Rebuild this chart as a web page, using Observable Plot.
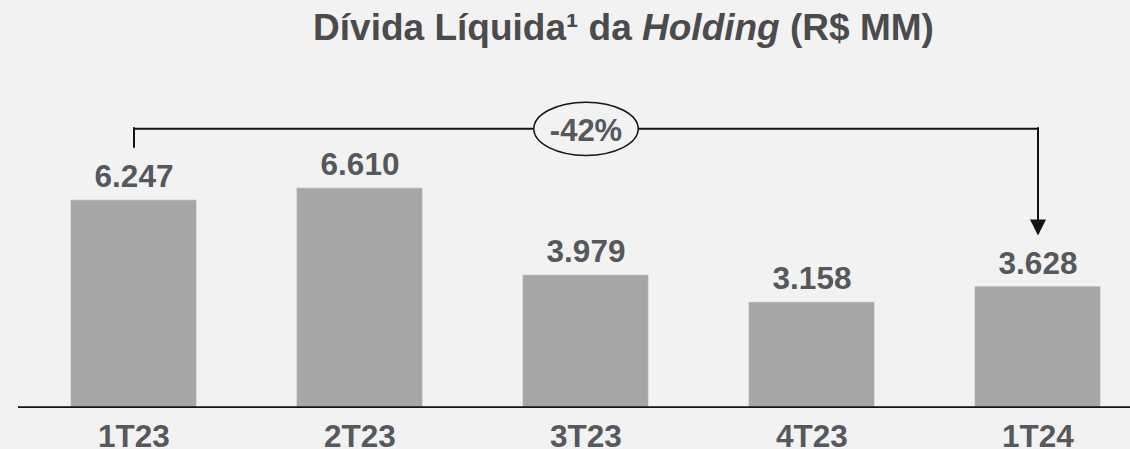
<!DOCTYPE html>
<html><head><meta charset="utf-8">
<script src="https://cdn.jsdelivr.net/npm/d3@7"></script>
<script src="https://cdn.jsdelivr.net/npm/@observablehq/plot@0.6"></script>
<style>
html,body{margin:0;padding:0;background:#f2f2f2;width:1130px;height:449px;overflow:hidden;}
#title{height:90px;box-sizing:border-box;padding-left:117px;padding-top:9px;text-align:center;font-family:"Liberation Sans",Arial,sans-serif;font-weight:bold;font-size:37px;line-height:37px;color:#4b4b4d;white-space:nowrap;}
#chart svg{display:block;}
</style></head><body>
<div id="title">Dívida Líquida¹ da <i>Holding</i> (R$ MM)</div>
<div id="chart"></div>
<script>
// Data
const periods = ["1T23", "2T23", "3T23", "4T23", "1T24"];
const netDebt = [6247, 6610, 3979, 3158, 3628];

// Annotation level (data units) for the bracket above the bars
const bracketLevel = 8420;

const locale = d3.formatLocale({decimal: ",", thousands: ".", grouping: [3], currency: ["R$ ", ""], minus: "-"});
const fmtNum = locale.format(",d");
const fmtPct = locale.format(".0%");

const data = periods.map((p, i) => ({period: p, value: netDebt[i]}));
const first = data[0];
const last = data[data.length - 1];
const midPeriod = periods[Math.floor(periods.length / 2)];
const change = (last.value - first.value) / first.value;
const changeNote = [{period: midPeriod, level: bracketLevel, label: fmtPct(change)}];

const textColor = "#55585c";
const lineColor = "#141414";

const ellipseSymbol = {
  draw(ctx) {
    const rx = 52.2, ry = 26.6, k = 0.5523;
    ctx.moveTo(rx, 0);
    ctx.bezierCurveTo(rx, ry * k, rx * k, ry, 0, ry);
    ctx.bezierCurveTo(-rx * k, ry, -rx, ry * k, -rx, 0);
    ctx.bezierCurveTo(-rx, -ry * k, -rx * k, -ry, 0, -ry);
    ctx.bezierCurveTo(rx * k, -ry, rx, -ry * k, rx, 0);
    ctx.closePath();
  }
};
const arrowSymbol = {
  draw(ctx) {
    ctx.moveTo(0, 0);
    ctx.lineTo(-8, -16);
    ctx.lineTo(8, -16);
    ctx.closePath();
  }
};

const chart = Plot.plot({
  width: 1130,
  height: 359,
  marginLeft: 18,
  marginRight: 0,
  marginTop: 19.1,
  marginBottom: 42.3,
  x: {domain: periods, paddingInner: 0.445, paddingOuter: 0.172, align: 0.645, axis: null},
  y: {domain: [0, 9000], axis: null},
  style: {background: "transparent", fontFamily: "'Liberation Sans', Arial, sans-serif", overflow: "visible"},
  marks: [
    Plot.barY(data, {x: "period", y: "value", fill: "#a6a6a6", stroke: "#b2b2b2", strokeWidth: 0.75}),
    Plot.ruleY([0], {stroke: lineColor, strokeWidth: 1.8}),
    Plot.text(data, {x: "period", y: "value", text: d => fmtNum(d.value), dy: -13.3, lineAnchor: "bottom",
      fontSize: 31.5, fontWeight: "bold", fill: textColor}),
    Plot.text(data, {x: "period", text: "period", frameAnchor: "bottom", lineAnchor: "bottom", dy: 39.5,
      fontSize: 31.5, fontWeight: "bold", fill: textColor}),
    // bracket
    Plot.line([first, last], {x: "period", y: () => bracketLevel, stroke: lineColor, strokeWidth: 2}),
    Plot.ruleX([first], {x: "period", y1: () => bracketLevel, y2: "value", insetBottom: 53.3,
      stroke: lineColor, strokeWidth: 2, strokeLinecap: "square"}),
    Plot.ruleX([last], {x: "period", y1: () => bracketLevel, y2: "value", insetBottom: 66,
      stroke: lineColor, strokeWidth: 2, strokeLinecap: "square"}),
    Plot.dot([last], {x: "period", y: "value", dy: -51.7, r: 8, symbol: arrowSymbol, fill: lineColor, stroke: "none"}),
    Plot.dot(changeNote, {x: "period", y: "level", r: 20, symbol: ellipseSymbol, fill: "#f2f2f2", stroke: lineColor, strokeWidth: 1.5}),
    Plot.text(changeNote, {x: "period", y: "level", text: "label", lineAnchor: "middle", dy: 2,
      fontSize: 31, fontWeight: "bold", fill: textColor})
  ]
});
document.getElementById("chart").appendChild(chart);
</script>
</body></html>
